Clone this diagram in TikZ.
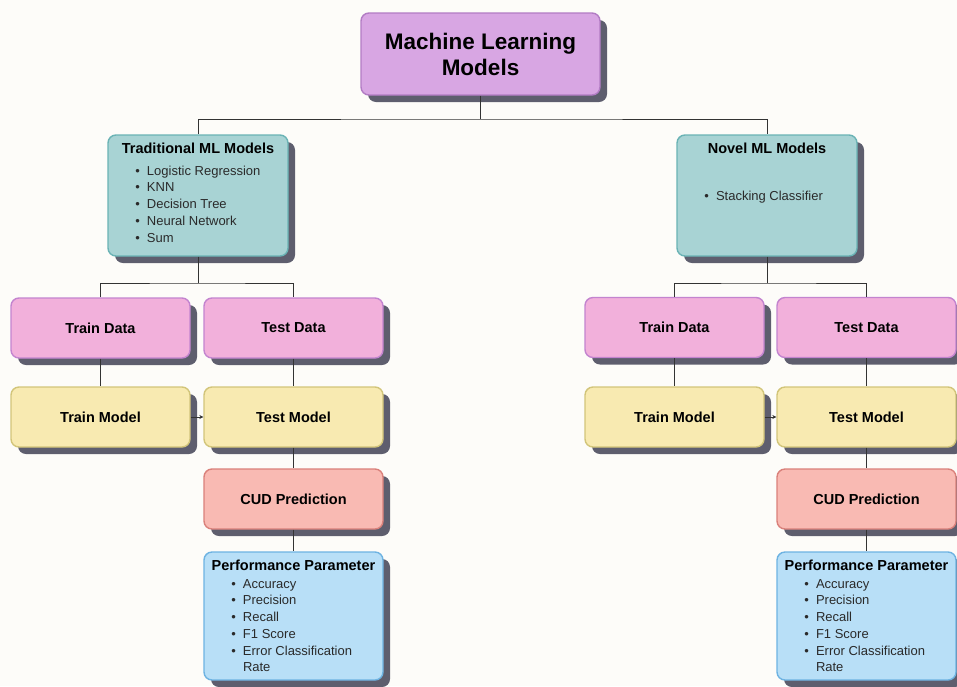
\documentclass[tikz,border=0pt]{standalone}
\usepackage{fontspec}
\setmainfont{Liberation Sans}
\usetikzlibrary{arrows.meta,positioning,calc,shadows}

\definecolor{pagebg}{HTML}{FDFCF9}
\definecolor{shadowgray}{HTML}{5E5E6E}
\definecolor{linkgray}{HTML}{333333}
\definecolor{itemgray}{HTML}{2A2A2A}
\definecolor{rootfill}{HTML}{D8A6E3}
\definecolor{rootline}{HTML}{B27CC4}
\definecolor{tealfill}{HTML}{A8D3D4}
\definecolor{tealline}{HTML}{6AB3B5}
\definecolor{pinkfill}{HTML}{F2B0DB}
\definecolor{pinkline}{HTML}{C384CF}
\definecolor{yellowfill}{HTML}{F8EAB1}
\definecolor{yellowline}{HTML}{D2C57A}
\definecolor{salmonfill}{HTML}{F9BAB3}
\definecolor{salmonline}{HTML}{DA817B}
\definecolor{bluefill}{HTML}{B8DFF7}
\definecolor{blueline}{HTML}{6EB3E2}

\newcommand{\titlefont}{\fontsize{14.5}{16}\selectfont\bfseries}
\newcommand{\itemsfont}{\fontsize{13}{16.7}\selectfont\color{itemgray}}
\newcommand{\itm}{\noindent\llap{\textbullet\hspace{7pt}}}
% box with a centred title and a bullet list below it
\newcommand{\cardlist}[3]{%
  \begin{minipage}[t][#1][t]{#2}#3\end{minipage}}
\newcommand{\cardtitle}[1]{\noindent\makebox[\linewidth][c]{\titlefont #1}\par}

\tikzset{
  card/.style={draw, rounded corners=8pt, line width=1.4pt, inner sep=0pt,
    align=center, text=black,
    drop shadow={fill=shadowgray, opacity=1, shadow xshift=7pt, shadow yshift=-7pt}},
  stepcard/.style={card, minimum width=179pt, minimum height=60pt, font=\titlefont},
  listcard/.style={card, inner sep=8pt},
  link/.style={draw=linkgray, line width=0.9pt},
}

\begin{document}
\begin{tikzpicture}[x=1pt,y=-1pt]
  \fill[pagebg] (0,0) rectangle (957,686);
  \useasboundingbox (0,0) rectangle (957,686);

  \node[card, fill=rootfill, draw=rootline, minimum width=239pt, minimum height=82pt,
        font=\fontsize{22.5}{26}\selectfont\bfseries] (root) at (480.5,54) {Machine Learning\\Models};

  \node[listcard, fill=tealfill, draw=tealline] (trad) at (198,195.5) {\cardlist{105pt}{164pt}{%
    \cardtitle{Traditional ML Models}\vspace{5pt}
    \itemsfont\leftskip=31pt
    \itm Logistic Regression\par
    \itm KNN\par
    \itm Decision Tree\par
    \itm Neural Network\par
    \itm Sum\par}};
  \node[listcard, fill=tealfill, draw=tealline] (novel) at (767,195.5) {\cardlist{105pt}{164pt}{%
    \cardtitle{Novel ML Models}\vspace{30pt}
    \itemsfont\leftskip=31pt
    \itm Stacking Classifier\par}};

  % left branch
  \node[stepcard, fill=pinkfill, draw=pinkline] (ltrd) at (100.5,328) {Train Data};
  \node[stepcard, fill=pinkfill, draw=pinkline] (ltsd) at (293.5,328) {Test Data};
  \node[stepcard, fill=yellowfill, draw=yellowline] (ltrm) at (100.5,417) {Train Model};
  \node[stepcard, fill=yellowfill, draw=yellowline] (ltsm) at (293.5,417) {Test Model};
  \node[stepcard, fill=salmonfill, draw=salmonline] (lcud) at (293.5,499) {CUD Prediction};
  \node[listcard, fill=bluefill, draw=blueline] (lperf) at (293.5,616) {\cardlist{112pt}{163pt}{%
    \cardtitle{Performance Parameter}\vspace{1pt}
    \itemsfont\leftskip=31pt
    \itm Accuracy\par
    \itm Precision\par
    \itm Recall\par
    \itm F1 Score\par
    \itm Error Classification\newline Rate\par}};

  % right branch
  \node[stepcard, fill=pinkfill, draw=pinkline] (rtrd) at (674.5,327.5) {Train Data};
  \node[stepcard, fill=pinkfill, draw=pinkline] (rtsd) at (866.5,327.5) {Test Data};
  \node[stepcard, fill=yellowfill, draw=yellowline] (rtrm) at (674.5,417) {Train Model};
  \node[stepcard, fill=yellowfill, draw=yellowline] (rtsm) at (866.5,417) {Test Model};
  \node[stepcard, fill=salmonfill, draw=salmonline] (rcud) at (866.5,499) {CUD Prediction};
  \node[listcard, fill=bluefill, draw=blueline] (rperf) at (866.5,616) {\cardlist{112pt}{163pt}{%
    \cardtitle{Performance Parameter}\vspace{1pt}
    \itemsfont\leftskip=31pt
    \itm Accuracy\par
    \itm Precision\par
    \itm Recall\par
    \itm F1 Score\par
    \itm Error Classification\newline Rate\par}};

  % tree connectors
  \coordinate (topbar) at (480.5,119);
  \coordinate (lsplit) at (198,283);
  \coordinate (rsplit) at (767,283);
  \draw[link] (root.south) -- (topbar);
  \draw[link] (trad.north) |- (topbar) -| (novel.north);
  \draw[link] (trad.south) -- (lsplit);
  \draw[link] (ltrd.north) |- (lsplit) -| (ltsd.north);
  \draw[link] (novel.south) -- (rsplit);
  \draw[link] (rtrd.north) |- (rsplit) -| (rtsd.north);
  \foreach \a/\b in {ltrd/ltrm, ltsd/ltsm, ltsm/lcud, lcud/lperf,
                     rtrd/rtrm, rtsd/rtsm, rtsm/rcud, rcud/rperf}
    \draw[link] (\a.south) -- (\b.north);
  \draw[link, -{Stealth[length=4pt,width=4pt]}] (ltrm.east) -- (ltsm.west);
  \draw[link, -{Stealth[length=4pt,width=4pt]}] (rtrm.east) -- (rtsm.west);
\end{tikzpicture}
\end{document}
